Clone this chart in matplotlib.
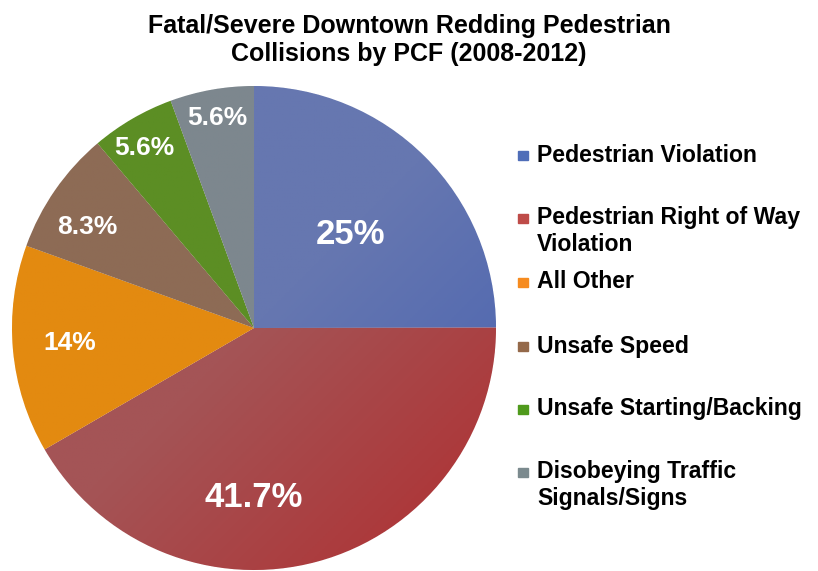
import matplotlib
matplotlib.use("Agg")
import matplotlib.pyplot as plt
import numpy as np
from matplotlib.colors import LinearSegmentedColormap, to_rgb
from matplotlib.patches import Rectangle

# data
categories = ["Pedestrian Violation", "Pedestrian Right of Way\nViolation", "All Other",
              "Unsafe Speed", "Unsafe Starting/Backing", "Disobeying Traffic\nSignals/Signs"]
shares = [25.0, 41.7, 13.9, 8.3, 5.6, 5.6]
pct_labels = ["25%", "41.7%", "14%", "8.3%", "5.6%", "5.6%"]

# styles
light = ["#6677B0", "#A45456", "#E38A10", "#8D6B55", "#5C8E24", "#7D878E"]
deep = ["#4560B0", "#B02E30", "#FF8000", "#9A6840", "#48A008", "#6E8088"]
swatch = ["#4F6DB8", "#BE4B48", "#F68B1F", "#94694A", "#4F9A1C", "#7B8A8E"]
label_xy = [(0.40, 0.386), (0.0, -0.70), (-0.76, -0.06), (-0.69, 0.417), (-0.455, 0.744), (-0.15, 0.868)]
label_size = [25, 25, 19, 19, 19, 19]
legend_y = [155, 231, 282, 346, 409, 485]

W, H = 818, 571
fig = plt.figure(figsize=(W / 100, H / 100), dpi=100)
cx, cy, r = 254, 328, 242
ax = fig.add_axes([(cx - r) / W, 1 - (cy + r) / H, 2 * r / W, 2 * r / H])

wedges, _ = ax.pie(shares, startangle=90, counterclock=False, radius=1,
                   wedgeprops=dict(linewidth=0.6, edgecolor="white"))

# gradient shading clipped to each wedge
gx, gy = np.meshgrid(np.linspace(-1, 1, 300), np.linspace(1, -1, 300))
grad = (gx - gy + 2) / 4
for w, c0, c1 in zip(wedges, light, deep):
    cmap = LinearSegmentedColormap.from_list("g", [to_rgb(c0), to_rgb(c0), to_rgb(c1)])
    w.set_facecolor(c0)
    im = ax.imshow(grad, cmap=cmap, extent=(-1, 1, -1, 1), vmin=0, vmax=1, zorder=1)
    im.set_clip_path(w)

for (x, y), t, s in zip(label_xy, pct_labels, label_size):
    ax.text(x, y, t, ha="center", va="center", color="white", fontsize=s,
            fontweight="bold", family="Liberation Sans", zorder=3)

ax.set_xlim(-1, 1)
ax.set_ylim(-1, 1)
ax.set_aspect("equal")
ax.axis("off")

fig.text(409 / W, 1 - 40 / H, "Fatal/Severe Downtown Redding Pedestrian\nCollisions by PCF (2008-2012)",
         ha="center", va="center", fontsize=18, fontweight="bold",
         family="Liberation Sans", linespacing=1.2)

for y, name, c in zip(legend_y, categories, swatch):
    first_y = y - (13 if "\n" in name else 0)
    fig.patches.append(Rectangle((518 / W, 1 - (first_y + 5) / H), 9.5 / W, 9.5 / H,
                                 transform=fig.transFigure, color=c))
    fig.text(537 / W, 1 - y / H, name, ha="left", va="center", fontsize=16.6,
             fontweight="bold", family="Liberation Sans", linespacing=1.2)

fig.savefig("out.png", dpi=100)
